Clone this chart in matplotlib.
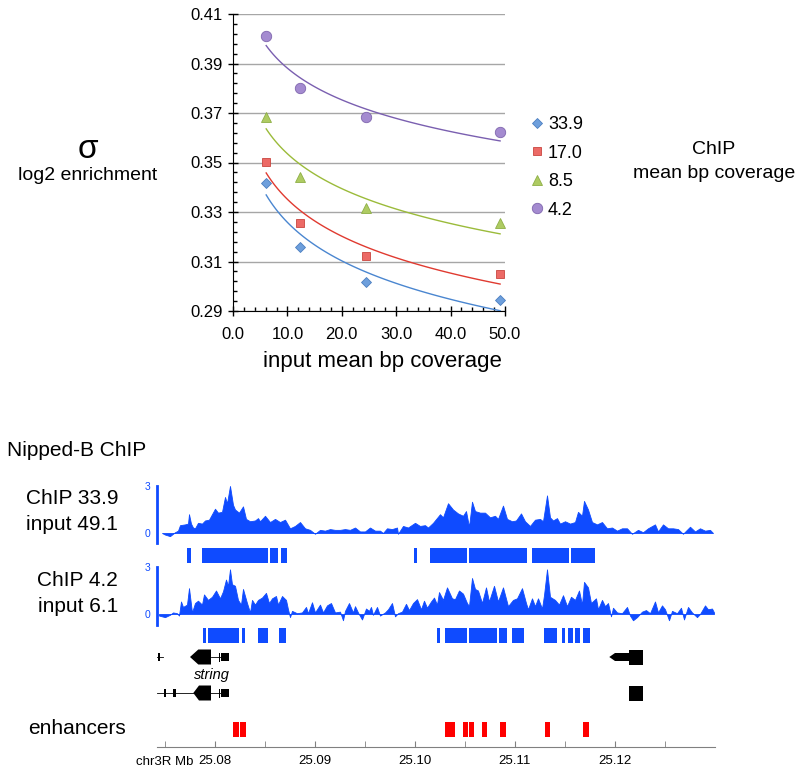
import numpy as np
import matplotlib
matplotlib.use("Agg")
import matplotlib.pyplot as plt
from matplotlib.patches import Polygon
from matplotlib.ticker import MultipleLocator, FormatStrFormatter

plt.rcParams["font.family"] = ["Liberation Sans", "DejaVu Sans"]

W, H = 800, 773

# ---- top panel: sigma vs input coverage ----
input_cov = [6.1, 12.3, 24.5, 49.1]
chip_labels = ["33.9", "17.0", "8.5", "4.2"]
sigma_339 = [0.3416, 0.3160, 0.3019, 0.2944]
sigma_170 = [0.3503, 0.3257, 0.3122, 0.3050]
sigma_85 = [0.3682, 0.3443, 0.3315, 0.3254]
sigma_42 = [0.4011, 0.3800, 0.3685, 0.3622]
y_ticks = [0.29, 0.31, 0.33, 0.35, 0.37, 0.39, 0.41]

# ---- bottom panel: genome browser (positions in kb after 25.07 Mb) ----
t1_kb = [4.7, 5.0, 5.5, 6.0, 6.3, 6.5, 7.0, 7.3, 7.4, 7.6, 7.8, 8.0, 8.3, 8.7, 9.0,
         9.4, 9.7, 10.0, 10.3, 10.7, 11.0, 11.2, 11.5, 11.8, 12.0, 12.4, 12.8, 13.1,
         13.5, 14.0, 14.3, 14.5, 15.0, 15.5, 16.0, 16.5, 17.0, 17.5, 18.0, 18.5, 19.0,
         19.5, 20.0, 20.5, 21.0, 21.5, 22.0, 22.5, 23.0, 23.5, 24.0, 24.5, 25.0, 25.5,
         26.0, 26.5, 26.8, 27.2, 27.7, 28.2, 28.3, 28.8, 29.3, 30.0, 30.5, 31.0, 31.3,
         31.8, 32.5, 32.8, 33.3, 33.8, 34.3, 34.8, 35.1, 35.4, 35.7, 36.0, 36.5, 37.0,
         37.5, 38.0, 38.3, 38.8, 39.2, 39.7, 40.1, 40.6, 41.0, 41.5, 42.0, 42.5, 42.8,
         43.2, 43.5, 43.8, 44.2, 44.5, 45.0, 45.5, 46.0, 46.3, 46.7, 46.9, 47.3, 47.7,
         48.2, 48.7, 49.2, 49.7, 50.2, 50.7, 51.2, 51.7, 52.3, 52.8, 53.3, 54.0, 54.3,
         54.8, 55.3, 55.8, 56.3, 56.8, 57.5, 58.0, 58.5, 59.0, 59.5, 59.8]
t1_val = [0.0, -0.1, -0.2, 0.05, 0.15, 0.5, 0.55, 0.6, 1.2, 0.6, 0.35, 0.3, 0.65, 0.6, 0.8,
          0.85, 1.2, 1.55, 1.3, 1.35, 2.3, 1.9, 3.0, 1.8, 1.5, 1.3, 1.7, 0.9,
          0.75, 0.8, 0.95, 0.75, 1.1, 0.7, 0.9, 0.7, 0.85, 0.3, 0.45, 0.7, 0.3,
          0.2, -0.05, 0.2, 0.15, 0.25, 0.2, 0.2, 0.25, 0.2, 0.35, 0.1, 0.1, 0.35,
          0.15, 0.15, 0.0, 0.3, 0.25, 0.35, -0.05, 0.45, 0.35, 0.65, 0.45, 0.5, 0.35,
          0.65, 1.2, 1.0, 1.9, 1.5, 1.25, 1.1, 1.4, 0.4, 2.0, 1.4, 1.3, 1.3,
          1.0, 1.1, 0.9, 1.75, 0.9, 0.75, 0.8, 1.25, 0.75, 0.45, 0.85, 0.9, 0.75,
          2.4, 1.0, 0.8, 0.95, 0.6, 0.75, 0.6, 0.7, 1.35, 1.1, 2.05, 1.5, 0.7,
          0.55, 0.7, 0.3, 0.35, 0.15, 0.3, 0.3, -0.05, 0.2, 0.05, 0.3, 0.55, 0.1,
          0.55, 0.3, 0.3, 0.25, -0.05, 0.4, 0.1, 0.3, 0.15, 0.2, 0.0]

t2_kb = [4.4, 5.0, 5.5, 5.8, 6.2, 6.4, 6.6, 6.8, 7.2, 7.4, 7.7, 8.0, 8.3, 8.7, 8.9, 9.3,
         9.7, 10.1, 10.5, 10.8, 11.1, 11.3, 11.5, 11.7, 12.0, 12.3, 12.6, 12.8, 13.2,
         13.5, 13.7, 14.0, 14.3, 14.7, 15.1, 15.4, 15.7, 16.1, 16.3, 16.7, 17.1, 17.3,
         17.5, 17.7, 18.2, 18.7, 19.1, 19.3, 19.7, 20.0, 20.5, 20.8, 21.2, 21.6, 22.0,
         22.5, 22.8, 23.0, 23.4, 23.8, 24.0, 24.3, 24.7, 25.1, 25.4, 25.6, 25.8, 26.2,
         26.5, 27.0, 27.3, 27.7, 28.0, 28.3, 28.7, 29.1, 29.4, 29.8, 30.2, 30.6, 30.9,
         31.2, 31.6, 31.9, 32.2, 32.4, 32.8, 33.2, 33.7, 34.0, 34.4, 34.8, 35.2, 35.4,
         35.7, 36.0, 36.3, 36.7, 37.1, 37.4, 37.9, 38.3, 38.8, 39.3, 39.8, 40.2, 40.7,
         41.1, 41.3, 41.7, 42.0, 42.3, 42.7, 42.9, 43.2, 43.5, 44.0, 44.4, 44.8, 45.2,
         45.6, 46.0, 46.4, 46.7, 46.9, 47.3, 47.6, 48.1, 48.3, 48.7, 49.0, 49.3, 49.6,
         49.8, 50.2, 50.7, 51.2, 51.5, 51.8, 52.2, 52.7, 53.1, 53.5, 54.0, 54.3, 54.7,
         55.0, 55.4, 55.7, 56.2, 56.6, 56.9, 57.3, 57.7, 58.2, 58.5, 59.0, 59.3, 59.7, 59.9]
t2_val = [-0.1, -0.2, -0.05, 0.1, 0.05, -0.1, 0.8, 0.45, 0.6, 1.65, 0.1, 0.7, 0.85, 0.6, 1.25, 0.9,
          1.1, 1.5, 1.0, 1.45, 2.2, 1.8, 2.85, 1.9, 1.8, 0.9, 0.6, 1.6, 0.7,
          0.1, 0.9, 0.6, 0.9, 1.05, 1.35, 0.7, 1.0, 1.15, 0.6, 1.15, 0.9, 0.3,
          -0.2, 0.2, 0.05, 0.1, 0.45, 0.05, 0.75, 0.1, 0.6, 0.1, 0.55, 0.7, 0.1,
          0.15, -0.4, 0.2, 0.7, 0.1, 0.5, 0.1, -0.35, 0.35, 0.2, 0.45, -0.05, 0.45,
          -0.1, 0.1, 0.3, 0.7, -0.15, 0.05, 0.15, 0.65, 0.25, 0.7, 0.95, 0.3, 0.85,
          0.4, 0.8, 1.05, 0.6, 1.4, 0.9, 1.7, 1.0, 0.95, 1.5, 1.3, 0.7, 0.5,
          2.3, 1.6, 1.5, 0.7, 1.7, 0.8, 1.8, 0.8, 1.7, 0.5, 0.9, 1.0, 1.65,
          0.7, 0.3, 1.0, 0.5, 1.0, 0.35, 1.2, 2.85, 1.1, 0.9, 0.6, 1.2, 0.5,
          1.1, 0.9, 1.5, 0.6, 2.05, 1.7, 0.7, 1.0, 0.3, 0.9, 0.5, 0.7, -0.15,
          0.4, 0.1, 0.05, 0.45, -0.1, -0.4, -0.2, 0.15, 0.25, 0.05, 0.8, 0.1, 0.55,
          0.3, -0.4, 0.2, 0.05, 0.4, -0.35, 0.45, 0.1, -0.2, 0.0, 0.55, 0.3, 0.35, 0.1]

peaks1_start = [7.23, 8.73, 15.5, 16.6, 29.87, 31.5, 35.43, 41.7, 45.63]
peaks1_end = [7.57, 15.33, 16.27, 17.23, 30.2, 35.17, 41.2, 45.37, 48.0]
peaks2_start = [8.8, 9.33, 12.67, 14.33, 16.43, 32.17, 32.97, 35.43, 38.43, 39.7,
                42.9, 44.67, 45.33, 46.0, 46.77]
peaks2_end = [9.07, 12.4, 13.0, 15.27, 17.1, 32.47, 35.23, 38.2, 39.17, 40.93,
              44.2, 44.97, 45.77, 46.5, 47.47]
enh_start = [11.83, 12.53, 33.03, 33.53, 34.8, 35.4, 36.7, 38.5, 42.97, 46.83]
enh_end = [12.43, 13.1, 33.5, 34.03, 35.27, 35.9, 37.23, 39.07, 43.5, 47.37]

ticks_kb = [10, 20, 30, 40, 50]
minor_kb = [5, 15, 25, 35, 45, 55]

blue = "#0F4BFF"


def px_rect(x0, y0, x1, y1):
    return [x0 / W, 1 - y1 / H, (x1 - x0) / W, (y1 - y0) / H]


def mb(vals):
    return 25.07 + np.asarray(vals) / 1000.0


fig = plt.figure(figsize=(8, 7.73), dpi=100)

# ---------------- scatter ----------------
ax = fig.add_axes(px_rect(233, 14, 505, 311))
series = [
    (sigma_339, "D", "#6E9FDC", "#4C7FC0", 5.5, "#4A86D0"),
    (sigma_170, "s", "#EC6A66", "#C9463F", 5.8, "#E03A30"),
    (sigma_85, "^", "#AECB62", "#8EAF45", 7, "#9BBB3A"),
    (sigma_42, "o", "#A48BD0", "#7F66AE", 7.5, "#7A5FB0"),
]
handles = []
xs = np.array(input_cov)
for vals, mk, fc, ec, ms, lc in series:
    h, = ax.plot(input_cov, vals, ls="none", marker=mk, ms=ms, mfc=fc, mec=ec, mew=0.6,
                 zorder=4, clip_on=False)
    handles.append(h)
    # Excel-style logarithmic trendline
    b, a = np.polyfit(np.log(xs), vals, 1)
    xf = np.linspace(xs[0], xs[-1], 100)
    ax.plot(xf, a + b * np.log(xf), color=lc, lw=1.0, zorder=3)

ax.set_xlim(0, 50)
ax.set_ylim(0.29, 0.41)
ax.set_yticks(y_ticks)
ax.set_yticks(np.linspace(0.29, 0.41, 31), minor=True)
ax.xaxis.set_major_locator(MultipleLocator(10))
ax.xaxis.set_minor_locator(MultipleLocator(2))
ax.yaxis.set_major_formatter(FormatStrFormatter("%.2f"))
ax.xaxis.set_major_formatter(FormatStrFormatter("%.1f"))
ax.grid(axis="y", color="#A6A6A6", lw=1.0)
ax.set_axisbelow(True)
for s in ["top", "right"]:
    ax.spines[s].set_visible(False)
ax.tick_params(which="major", direction="inout", length=7, width=1, labelsize=12, pad=4)
ax.tick_params(which="minor", direction="in", length=3, width=1)
ax.tick_params(axis="x", pad=8)
fig.text(382 / W, 1 - 362 / H, "input mean bp coverage", ha="center", va="center", fontsize=16)

fig.legend(handles, chip_labels, loc="upper left", bbox_to_anchor=(528 / W, 1 - 116 / H),
           frameon=False, fontsize=13, handletextpad=0.1, labelspacing=0.64,
           handlelength=1.0, borderaxespad=0, borderpad=0)

fig.text(88 / W, 1 - 150 / H, "σ", ha="center", va="center", fontsize=24)
fig.text(88 / W, 1 - 175 / H, "log2 enrichment", ha="center", va="center", fontsize=14)
fig.text(714 / W, 1 - 150 / H, "ChIP", ha="center", va="center", fontsize=14)
fig.text(714 / W, 1 - 174 / H, "mean bp coverage", ha="center", va="center", fontsize=14)

# ---------------- genome browser ----------------
xlim = (25.0742, 25.1300)

fig.text(7 / W, 1 - 450 / H, "Nipped-B ChIP", ha="left", va="center", fontsize=15)
fig.text(118 / W, 1 - 498 / H, "ChIP 33.9", ha="right", va="center", fontsize=15)
fig.text(118 / W, 1 - 524 / H, "input 49.1", ha="right", va="center", fontsize=15)
fig.text(118 / W, 1 - 581 / H, "ChIP 4.2", ha="right", va="center", fontsize=15)
fig.text(118 / W, 1 - 607 / H, "input 6.1", ha="right", va="center", fontsize=15)
fig.text(77 / W, 1 - 729 / H, "enhancers", ha="center", va="center", fontsize=15)


def signal_track(rect, kb, val, ylim, spine_lo):
    t = fig.add_axes(rect)
    t.patch.set_alpha(0)
    x = mb(kb)
    t.fill_between(x, 0, val, color=blue, lw=0.6, edgecolor=blue)
    t.set_xlim(*xlim)
    t.set_ylim(*ylim)
    for s in ["top", "right", "bottom"]:
        t.spines[s].set_visible(False)
    t.spines["left"].set_color(blue)
    t.spines["left"].set_linewidth(2)
    t.spines["left"].set_bounds(spine_lo, 3)
    t.set_xticks([])
    t.set_yticks([0, 3])
    t.tick_params(axis="y", length=0, labelsize=7.5, labelcolor=blue, pad=5)
    return t


signal_track(px_rect(157, 480, 715, 545), t1_kb, t1_val, (-0.766, 3.383), -0.64)
signal_track(px_rect(157, 562, 715, 627), t2_kb, t2_val, (-0.83, 3.32), -0.70)

ann = fig.add_axes(px_rect(157, 545, 715, 747))
ann.patch.set_alpha(0)
ann.set_xlim(*xlim)
ann.set_ylim(747, 545)

p1s, p1e = mb(peaks1_start), mb(peaks1_end)
ann.broken_barh(list(zip(p1s, p1e - p1s)), (548, 15), color=blue, lw=0)
p2s, p2e = mb(peaks2_start), mb(peaks2_end)
ann.broken_barh(list(zip(p2s, p2e - p2s)), (628, 15), color=blue, lw=0)
es, ee = mb(enh_start), mb(enh_end)
ann.broken_barh(list(zip(es, ee - es)), (722, 15), color="#FF0000", lw=0)


def arrow_block(y, tip, start, end, h):
    a = mb([tip, start, end])
    ann.add_patch(Polygon([(a[0], y), (a[1], y - h), (a[2], y - h), (a[2], y + h), (a[1], y + h)],
                          closed=True, color="black", lw=0))


def block(y, s, e, h):
    a = mb([s, e])
    ann.add_patch(Polygon([(a[0], y - h), (a[1], y - h), (a[1], y + h), (a[0], y + h)],
                          closed=True, color="black", lw=0))


def line(y, s, e):
    a = mb([s, e])
    ann.plot(a, [y, y], color="black", lw=0.6)


# gene row 1
line(657, 4.15, 4.85)
block(657, 4.35, 4.55, 4)
line(657, 9.6, 10.6)
arrow_block(657, 7.5, 8.33, 9.6, 7.5)
block(657, 10.6, 11.43, 4.2)
block(657, 10.45, 10.52, 4.5)
arrow_block(657, 49.43, 50.0, 51.43, 4)
block(657, 51.43, 52.77, 7.5)
# gene row 2
line(693, 4.17, 10.6)
block(693, 4.9, 5.1, 4)
block(693, 5.8, 6.07, 4)
arrow_block(693, 7.83, 8.4, 9.6, 7.5)
block(693, 10.6, 11.43, 4.2)
block(693, 10.45, 10.52, 4.5)
block(693, 51.43, 52.77, 7.5)
ann.text(mb([9.7])[0], 675, "string", ha="center", va="center", fontsize=10.5, style="italic")

for s in ["top", "right", "left"]:
    ann.spines[s].set_visible(False)
ann.spines["bottom"].set_color("#808080")
ann.set_yticks([])
ann.set_xticks(mb(ticks_kb))
ann.set_xticklabels(["%.2f" % v for v in mb(ticks_kb)])
ann.set_xticks(mb(minor_kb), minor=True)
ann.tick_params(axis="x", which="both", direction="in", length=4, color="#808080", labelsize=9.5, pad=6)
ann.text(mb([7.8])[0], 762, "chr3R Mb", ha="right", va="center", fontsize=9.5)

fig.savefig("out.png", dpi=100)
